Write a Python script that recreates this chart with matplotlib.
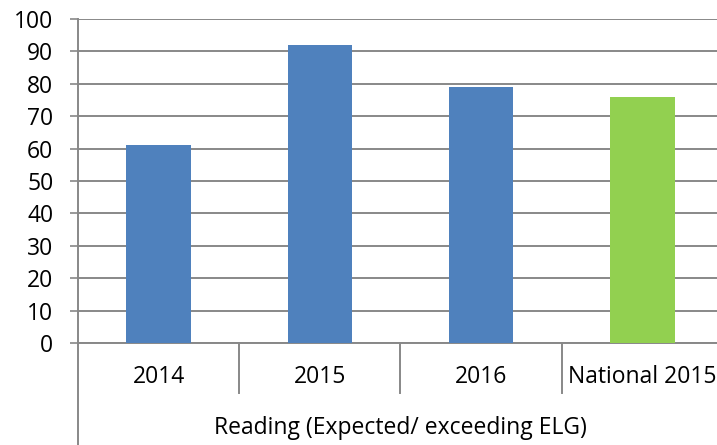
import matplotlib.pyplot as plt
import matplotlib.transforms as mtransforms

# ---------------------------------------------------------------------
# Data
# ---------------------------------------------------------------------
CATEGORIES = ["2014", "2015", "2016", "National 2015"]
VALUES = [61, 92, 79, 76]
GROUP_LABEL = "Reading (Expected/ exceeding ELG)"
Y_TICKS = list(range(0, 101, 10))

BLUE = "#4F81BD"
GREEN = "#92D050"
GRID = "#888888"
FS = 16.5

plt.rcParams["font.family"] = ["Open Sans", "DejaVu Sans"]

W, H = 717, 445
fig = plt.figure(figsize=(W / 100, H / 100), dpi=100)
# plot area in pixels: left 78, right ~723 (runs slightly off the image), top 19, bottom 343
ax = fig.add_axes([78 / W, 1 - 343 / H, (723 - 78) / W, (343 - 19) / H])

colors = [BLUE, BLUE, BLUE, GREEN]
xs = list(range(len(CATEGORIES)))
ax.bar(xs, VALUES, width=0.4, color=colors, zorder=3)

ax.set_xlim(-0.5, len(CATEGORIES) - 0.5)
ax.set_ylim(0, 100)
ax.set_yticks(Y_TICKS)
ax.tick_params(axis="y", length=5.8, width=1.2, color=GRID, labelsize=FS,
               labelcolor="black", pad=12)
ax.grid(axis="y", color=GRID, linewidth=1.4, zorder=0)

for side in ["top", "right"]:
    ax.spines[side].set_visible(False)
for side in ["left", "bottom"]:
    ax.spines[side].set_color(GRID)
    ax.spines[side].set_linewidth(1.4)

ax.set_xticks([])

trans = mtransforms.blended_transform_factory(ax.transData, ax.transAxes)
px = 1 / (343 - 19)

# category labels (first level)
for x, lab in zip(xs, CATEGORIES):
    ax.text(x, -34 * px, lab, transform=trans, ha="center", va="center",
            fontsize=FS, color="black")

# separators between categories, and the outer-level line on the left
for x in [0.5, 1.5, 2.5, 3.5]:
    ax.plot([x, x], [0, -50 * px], transform=trans, color=GRID,
            linewidth=1.4, clip_on=False)
ax.plot([-0.5, -0.5], [0, -110 * px], transform=trans, color=GRID,
        linewidth=1.4, clip_on=False)

# second-level group label
ax.text(1.5, -85 * px, GROUP_LABEL, transform=trans, ha="center",
        va="center", fontsize=FS, color="black")

fig.savefig("out.png", dpi=100)
